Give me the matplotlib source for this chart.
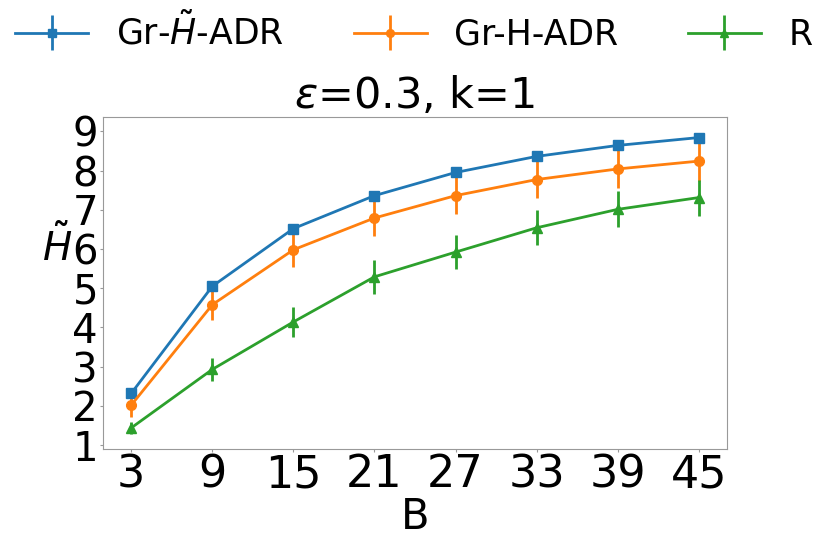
import matplotlib
matplotlib.use("Agg")
import matplotlib.pyplot as plt

B = [3, 9, 15, 21, 27, 33, 39, 45]
gr_ht = [2.32, 5.05, 6.52, 7.36, 7.95, 8.36, 8.64, 8.84]
gr_ht_err = [0.08, 0.1, 0.1, 0.1, 0.08, 0.08, 0.08, 0.08]
gr_h = [2.02, 4.58, 5.98, 6.79, 7.36, 7.77, 8.04, 8.24]
gr_h_err = [0.3, 0.4, 0.45, 0.47, 0.47, 0.48, 0.48, 0.5]
r = [1.44, 2.93, 4.14, 5.29, 5.92, 6.54, 7.01, 7.31]
r_err = [0.15, 0.3, 0.39, 0.43, 0.44, 0.45, 0.46, 0.46]
labels = [r"Gr-$\tilde{H}$-ADR", "Gr-H-ADR", "R"]
xticks = [3, 9, 15, 21, 27, 33, 39, 45]
yticks = [1, 2, 3, 4, 5, 6, 7, 8, 9]

plt.rcParams['font.family'] = ['DejaVu Sans']
fig = plt.figure(figsize=(8.3, 5.4), dpi=100)
ax = fig.add_axes([0.124, 0.1685, 0.752, 0.6145])

series = [(gr_ht, gr_ht_err, 's', '#1f77b4'),
          (gr_h, gr_h_err, 'o', '#ff7f0e'),
          (r, r_err, '^', '#2ca02c')]
for (vals, errs, mk, col), lab in zip(series, labels):
    ax.errorbar(B, vals, yerr=errs, marker=mk, color=col, lw=2, ms=7,
                elinewidth=2, capsize=0, label=lab)

ax.set_xticks(xticks)
ax.set_yticks(yticks)
ax.set_ylim(0.9, 9.36)
ax.tick_params(axis='x', labelsize=32, length=2, color='#999999', pad=1)
ax.tick_params(axis='y', labelsize=29, length=2, color='#999999', pad=1.5)
for s in ax.spines.values():
    s.set_color('#999999')
ax.set_xlabel('B', fontsize=30, labelpad=0)
ax.set_ylabel(r'$\tilde{H}$', fontsize=28, rotation=0, ha='center', va='center')
ax.yaxis.set_label_coords(-0.074, 0.61)
ax.set_title(r'$\varepsilon$=0.3, k=1', fontsize=31, pad=4)

fig.legend(loc='upper left', bbox_to_anchor=(-0.019, 1.035), ncol=3, fontsize=25,
           frameon=False, handlelength=2.1, columnspacing=2.0, handletextpad=0.8,
           markerscale=0.8)

fig.savefig('out.png', dpi=100)
